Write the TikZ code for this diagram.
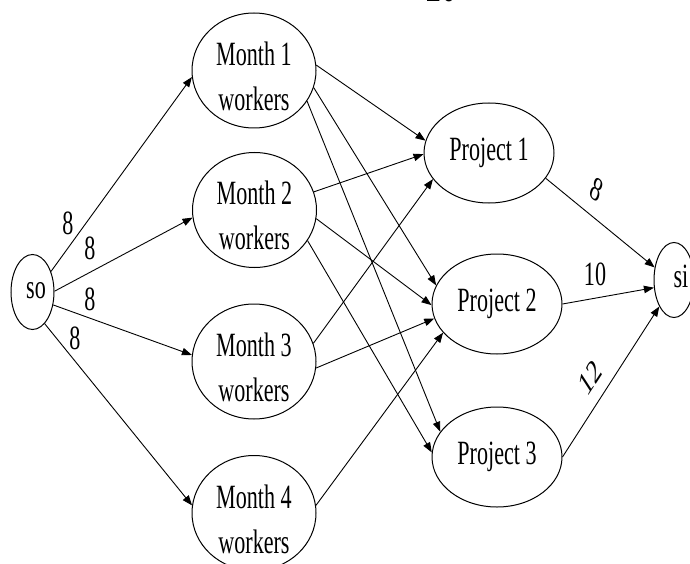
\documentclass[tikz,border=0pt]{standalone}
\usepackage{fontspec}
\setmainfont{Liberation Serif}[FakeStretch=0.65]
\newfontfamily\fullserif{Liberation Serif}
\newfontfamily\narrowmono{Liberation Mono}[FakeStretch=0.65]
\usetikzlibrary{shapes.geometric,arrows.meta}

\begin{document}
\begin{tikzpicture}[x=1pt,y=-1pt,
  every node/.style={font=\fontsize{34}{45}\selectfont},
  vertex/.style={draw, ellipse, line width=1pt, inner sep=0pt},
  monthnode/.style={vertex, minimum width=124pt, minimum height=115pt},
  projnode/.style={vertex, minimum width=130pt, minimum height=100pt},
  endnode/.style={vertex, minimum width=43pt, minimum height=75pt},
  caption/.style={align=center, inner sep=0pt},
  weight/.style={inner sep=0pt},
  tiltweight/.style={inner sep=0pt, font=\fontsize{34}{45}\fullserif, xscale=0.65},
  flow/.style={line width=0.9pt, -{Triangle[length=10pt,width=7.5pt]}},
]
\fill[white] (0,0) rectangle (690,564);
\useasboundingbox (0,0) rectangle (690,564);

% page number at the top edge
\node[anchor=base, inner sep=0pt, font=\fontsize{40}{40}\narrowmono] (pagenum) at (441,2) {10};

% source and sink
\node[endnode, minimum width=43pt] (so) at (32.5,292) {};
\node[caption] (sotext) at (36,291) {so};
\node[endnode, minimum width=40pt] (si) at (674,280) {};
\node[caption] (sitext) at (681,276.5) {si};

% worker pools per month
\node[monthnode] (m1) at (254,70.5) {};
\node[monthnode] (m2) at (254.5,210) {};
\node[monthnode] (m3) at (254,361.5) {};
\node[monthnode] (m4) at (254,513) {};
\node[caption] (m1text) at (254,76.5) {Month 1\\workers};
\node[caption] (m2text) at (254.5,215) {Month 2\\workers};
\node[caption] (m3text) at (254,367) {Month 3\\workers};
\node[caption] (m4text) at (254,519) {Month 4\\workers};

% projects
\node[projnode] (p1) at (489,153) {Project 1};
\node[projnode] (p2) at (497,304) {Project 2};
\node[projnode] (p3) at (497,457) {Project 3};

% source to months
\draw[flow] (so.48) -- (m1.186);
\draw[flow] (so.2) -- (m2.187);
\draw[flow] (so.-32) -- (m3.174);
\draw[flow] (so.-69) -- (m4.173);

% months to projects
\draw[flow] (m1.5) -- (p1.169);
\draw[flow] (m1.-16) -- (p2.163);
\draw[flow] (m1.-30) -- (p3.156);
\draw[flow] (m2.17) -- (p1.181);
\draw[flow] (m2.-8) -- (p2.181);
\draw[flow] (m2.-30) -- (p3.176);
\draw[flow] (m3.17) -- (p1.205);
\draw[flow] (m3.-6) -- (p2.193);
\draw[flow] (m4.7) -- (p2.208);

% projects to sink
\draw[flow] (p1.-24) -- (si.147);
\draw[flow] (p2.0) -- (si.201);
\draw[flow] (p3.0) -- (si.241);

% capacities
\node[weight] (w1) at (68,223) {8};
\node[weight] (w2) at (90,248) {8};
\node[weight] (w3) at (90,299) {8};
\node[weight] (w4) at (75,338) {8};
\node[tiltweight, rotate=-28] (w5) at (597,190) {8};
\node[weight] (w6) at (595,274) {10};
\node[tiltweight, rotate=45] (w7) at (590,378) {12};
\end{tikzpicture}
\end{document}
